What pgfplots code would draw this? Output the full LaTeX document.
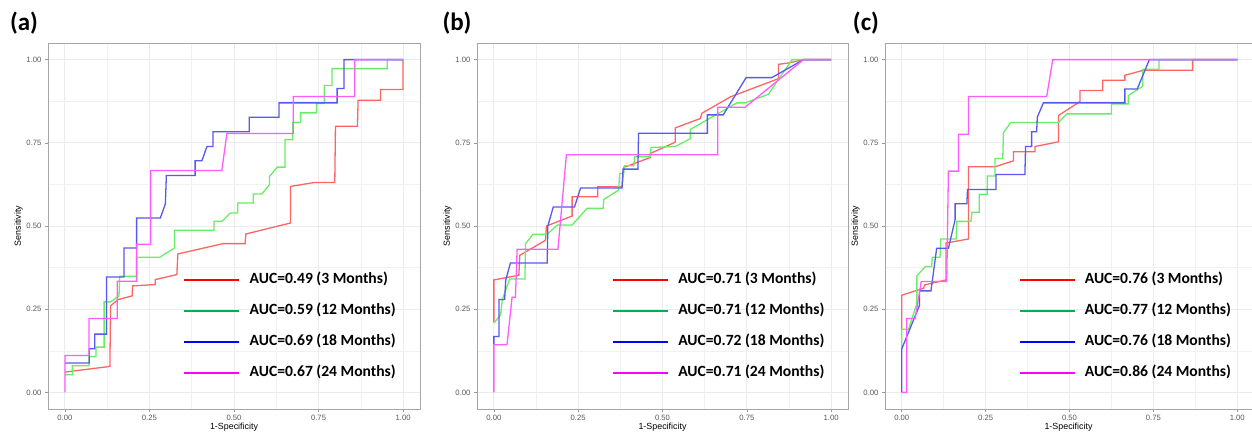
\documentclass[border=0pt]{standalone}
\usepackage{fontspec}
\setmainfont{Liberation Sans}
\newfontfamily\carlito{Carlito}
\usepackage{pgfplots}
\pgfplotsset{compat=1.18}

% curve colours (ggplot lines) and legend colours (added by hand)
\definecolor{cRed}{HTML}{FF6464}
\definecolor{cGreen}{HTML}{66EE66}
\definecolor{cBlue}{HTML}{5858F2}
\definecolor{cMag}{HTML}{FF5CFF}
\definecolor{lRed}{HTML}{FF0000}
\definecolor{lGreen}{HTML}{00B050}
\definecolor{lBlue}{HTML}{0000FF}
\definecolor{lMag}{HTML}{FF00FF}
\definecolor{gridc}{HTML}{EBEBEB}

\pgfplotsset{
  roc/.style={
    scale only axis,
    width=372pt, height=366pt,
    anchor=south west,
    xmin=-0.05, xmax=1.05, ymin=-0.05, ymax=1.05,
    xtick={0,0.25,0.5,0.75,1}, ytick={0,0.25,0.5,0.75,1},
    minor xtick={0.125,0.375,0.625,0.875},
    minor ytick={0.125,0.375,0.625,0.875},
    xticklabels={0.00,0.25,0.50,0.75,1.00},
    yticklabels={0.00,0.25,0.50,0.75,1.00},
    xtick pos=bottom, ytick pos=left,
    grid=both,
    major grid style={draw=gridc, line width=0.9pt},
    minor grid style={draw=gridc!70, line width=0.5pt},
    axis line style={draw=black!35, line width=1pt},
    tick align=outside, major tick length=3pt, minor tick length=0pt,
    tick style={draw=black!40, line width=0.6pt},
    tick label style={font=\fontsize{7.7}{8}\selectfont, text=black!65},
    xlabel={1-Specificity}, ylabel={Sensitivity},
    label style={font=\fontsize{8.9}{9}\selectfont},
    xlabel style={yshift=5pt},
    ylabel style={yshift=-3pt},
    legend cell align=left,
    legend style={draw=none, fill=none, inner sep=0pt,
      at={(0.363,0.373)}, anchor=north west,
      row sep=16.5pt, column sep=9pt,
      nodes={inner sep=0pt, text height=11pt, text depth=3.5pt},
      font=\carlito\bfseries\fontsize{15.6}{16}\selectfont},
    legend image code/.code={\draw[#1, line width=2.4pt] (0pt,0pt) -- (55pt,0pt);},
    every axis plot/.append style={line width=1.3pt},
  },
}

\begin{document}
\begin{tikzpicture}
\useasboundingbox (0,0) rectangle (1252pt,-432pt);

% ---------------- (a) ----------------
\begin{axis}[roc, at={(48pt,-409pt)}]
\addlegendimage{draw=lRed}\addlegendentry{AUC=0.49 (3 Months)}
\addlegendimage{draw=lGreen}\addlegendentry{AUC=0.59 (12 Months)}
\addlegendimage{draw=lBlue}\addlegendentry{AUC=0.69 (18 Months)}
\addlegendimage{draw=lMag}\addlegendentry{AUC=0.67 (24 Months)}
\addplot[cRed, forget plot] coordinates {
 (0,0.061)(0.133,0.078)(0.135,0.26)(0.157,0.279)(0.199,0.29)(0.2,0.32)
 (0.267,0.324)(0.267,0.339)(0.331,0.354)(0.334,0.416)(0.467,0.447)(0.533,0.447)
 (0.535,0.476)(0.667,0.509)(0.667,0.619)(0.739,0.631)(0.798,0.631)(0.8,0.8)
 (0.865,0.8)(0.867,0.878)(0.933,0.878)(0.933,0.91)(1,0.91)(1,1)};
\addplot[cGreen, forget plot] coordinates {
 (0,0.053)(0.022,0.053)(0.022,0.08)(0.071,0.08)(0.071,0.108)(0.092,0.108)
 (0.092,0.136)(0.116,0.136)(0.116,0.272)(0.135,0.272)(0.16,0.29)(0.162,0.349)
 (0.212,0.349)(0.212,0.406)(0.28,0.406)(0.324,0.434)(0.324,0.487)(0.441,0.487)
 (0.441,0.514)(0.464,0.514)(0.489,0.539)(0.511,0.539)(0.511,0.569)(0.557,0.569)
 (0.557,0.596)(0.582,0.596)(0.605,0.624)(0.605,0.649)(0.628,0.677)(0.651,0.677)
 (0.651,0.759)(0.674,0.759)(0.674,0.812)(0.697,0.812)(0.697,0.84)(0.744,0.84)
 (0.744,0.868)(0.767,0.868)(0.767,0.922)(0.79,0.922)(0.79,0.973)(0.953,0.973)
 (0.953,1)(1,1)};
\addplot[cBlue, forget plot] coordinates {
 (0,0.088)(0.072,0.088)(0.072,0.131)(0.088,0.131)(0.088,0.175)(0.123,0.175)
 (0.123,0.347)(0.175,0.347)(0.175,0.434)(0.212,0.434)(0.212,0.524)(0.282,0.524)
 (0.297,0.566)(0.3,0.652)(0.385,0.652)(0.385,0.696)(0.405,0.696)(0.42,0.739)
 (0.438,0.739)(0.438,0.783)(0.545,0.783)(0.545,0.827)(0.633,0.827)(0.633,0.87)
 (0.805,0.87)(0.805,0.913)(0.825,0.913)(0.825,1)(1,1)};
\addplot[cMag, forget plot] coordinates {
 (0,0)(0,0.111)(0.071,0.111)(0.071,0.222)(0.155,0.222)(0.155,0.334)
 (0.212,0.334)(0.212,0.445)(0.254,0.445)(0.254,0.667)(0.464,0.667)(0.479,0.778)
 (0.675,0.778)(0.675,0.889)(0.857,0.889)(0.857,1)(1,1)};
\end{axis}

% ---------------- (b) ----------------
\begin{axis}[roc, at={(477pt,-409pt)}, width=371pt]
\addlegendimage{draw=lRed}\addlegendentry{AUC=0.71 (3 Months)}
\addlegendimage{draw=lGreen}\addlegendentry{AUC=0.71 (12 Months)}
\addlegendimage{draw=lBlue}\addlegendentry{AUC=0.72 (18 Months)}
\addlegendimage{draw=lMag}\addlegendentry{AUC=0.71 (24 Months)}
\addplot[cRed, forget plot] coordinates {
 (0,0.211)(0,0.338)(0.074,0.352)(0.077,0.412)(0.153,0.457)(0.156,0.5)
 (0.232,0.53)(0.232,0.588)(0.308,0.588)(0.308,0.618)(0.38,0.618)(0.385,0.676)
 (0.464,0.706)(0.464,0.718)(0.538,0.752)(0.538,0.795)(0.612,0.823)(0.617,0.839)
 (0.701,0.888)(0.844,0.943)(0.844,0.986)(0.874,0.99)(0.918,1)(1,1)};
\addplot[cGreen, forget plot] coordinates {
 (0,0.208)(0.02,0.233)(0.025,0.279)(0.047,0.341)(0.092,0.341)(0.094,0.447)
 (0.116,0.475)(0.158,0.475)(0.188,0.503)(0.232,0.503)(0.276,0.553)(0.324,0.553)
 (0.326,0.58)(0.37,0.608)(0.373,0.658)(0.385,0.658)(0.387,0.681)(0.415,0.681)
 (0.417,0.708)(0.464,0.708)(0.466,0.736)(0.538,0.739)(0.582,0.762)(0.582,0.79)
 (0.72,0.87)(0.745,0.87)(0.814,0.896)(0.884,1)(1,1)};
\addplot[cBlue, forget plot] coordinates {
 (0,0.143)(0,0.168)(0.015,0.168)(0.015,0.279)(0.032,0.279)(0.035,0.336)
 (0.049,0.389)(0.158,0.389)(0.16,0.5)(0.176,0.557)(0.239,0.557)(0.257,0.614)
 (0.38,0.614)(0.383,0.671)(0.427,0.671)(0.429,0.779)(0.633,0.779)(0.633,0.834)
 (0.68,0.834)(0.748,0.946)(0.824,0.946)(0.918,1)(1,1)};
\addplot[cMag, forget plot] coordinates {
 (0,0)(0,0.143)(0.039,0.143)(0.054,0.286)(0.064,0.286)(0.069,0.43)
 (0.19,0.43)(0.215,0.714)(0.664,0.714)(0.664,0.857)(0.745,0.857)(0.918,1)(1,1)};
\end{axis}

% ---------------- (c) ----------------
\begin{axis}[roc, at={(885pt,-409pt)}, width=367pt, xmax=1.044]
\addlegendimage{draw=lRed}\addlegendentry{AUC=0.76 (3 Months)}
\addlegendimage{draw=lGreen}\addlegendentry{AUC=0.77 (12 Months)}
\addlegendimage{draw=lBlue}\addlegendentry{AUC=0.76 (18 Months)}
\addlegendimage{draw=lMag}\addlegendentry{AUC=0.86 (24 Months)}
\addplot[cRed, forget plot] coordinates {
 (0,0.19)(0,0.292)(0.065,0.313)(0.068,0.323)(0.132,0.338)(0.132,0.449)
 (0.199,0.461)(0.199,0.678)(0.278,0.678)(0.333,0.696)(0.333,0.723)(0.397,0.723)
 (0.397,0.739)(0.467,0.753)(0.467,0.832)(0.531,0.874)(0.531,0.907)(0.599,0.907)
 (0.599,0.938)(0.665,0.938)(0.665,0.953)(0.72,0.968)(0.867,0.968)(0.867,1)(1,1)};
\addplot[cGreen, forget plot] coordinates {
 (0,0.13)(0,0.19)(0.02,0.19)(0.045,0.267)(0.045,0.35)(0.07,0.378)(0.089,0.378)
 (0.091,0.406)(0.114,0.406)(0.116,0.461)(0.162,0.461)(0.164,0.514)(0.206,0.514)
 (0.209,0.541)(0.231,0.541)(0.231,0.595)(0.255,0.595)(0.255,0.65)(0.278,0.65)
 (0.278,0.703)(0.301,0.703)(0.303,0.781)(0.325,0.811)(0.467,0.811)(0.492,0.837)
 (0.625,0.837)(0.625,0.867)(0.675,0.867)(0.675,0.892)(0.718,0.92)(0.718,0.971)
 (0.767,0.971)(0.767,1)(1,1)};
\addplot[cBlue, forget plot] coordinates {
 (0,0)(0,0.131)(0.053,0.262)(0.053,0.305)(0.087,0.305)(0.104,0.433)(0.139,0.433)
 (0.159,0.519)(0.159,0.567)(0.194,0.567)(0.196,0.61)(0.281,0.61)(0.281,0.655)
 (0.367,0.655)(0.369,0.739)(0.387,0.739)(0.387,0.783)(0.402,0.783)(0.404,0.827)
 (0.422,0.87)(0.665,0.87)(0.665,0.912)(0.702,0.912)(0.738,1)(1,1)};
\addplot[cMag, forget plot] coordinates {
 (0,0)(0.015,0)(0.015,0.222)(0.04,0.222)(0.058,0.333)(0.134,0.333)(0.139,0.665)
 (0.169,0.665)(0.169,0.776)(0.199,0.776)(0.199,0.889)(0.432,0.889)(0.45,1)(1,1)};
\end{axis}

% panel letters
\node[font=\carlito\bfseries\fontsize{25}{25}\selectfont] at (24pt,-23pt) {(a)};
\node[font=\carlito\bfseries\fontsize{25}{25}\selectfont] at (457pt,-23pt) {(b)};
\node[font=\carlito\bfseries\fontsize{25}{25}\selectfont] at (866pt,-23pt) {(c)};
\end{tikzpicture}
\end{document}
